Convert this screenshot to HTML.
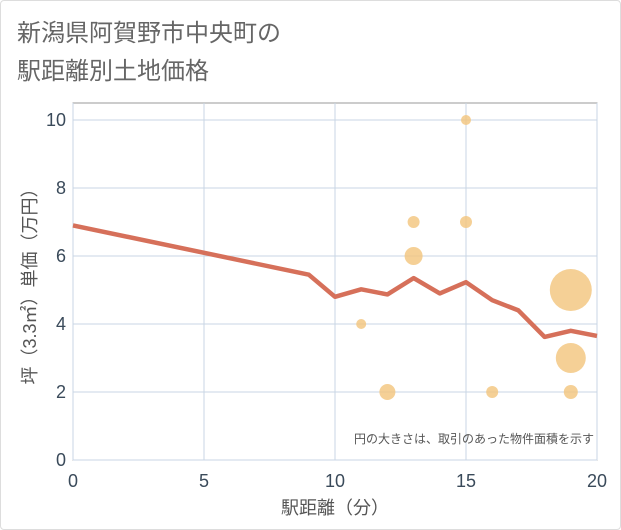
<!DOCTYPE html>
<html><head><meta charset="utf-8"><style>
body{margin:0;background:#fff;font-family:"Liberation Sans","Noto Sans CJK JP",sans-serif;}
#card{position:absolute;left:0;top:0;width:619px;height:528px;border:1px solid #ddd;border-radius:4px;background:#fff;}
</style></head><body>
<div id="card"></div>
<svg width="621" height="530" style="position:absolute;left:0;top:0" font-family="Liberation Sans, Noto Sans CJK JP, sans-serif">
<text x="17" y="41" font-size="24" fill="#666">新潟県阿賀野市中央町の</text>
<text x="17" y="79" font-size="24" fill="#666">駅距離別土地価格</text>
<rect x="73" y="103" width="524" height="357" fill="#fff" stroke="#999"/>
<g id="grid"></g><g id="bubbles"></g><g id="line"></g><g id="ticks"></g>
<text x="594" y="443" font-size="12" fill="#555" text-anchor="end">円の大きさは、取引のあった物件面積を示す</text>
<text x="335" y="514" font-size="18" fill="#555" text-anchor="middle">駅距離（分）</text>
<text transform="translate(36,282) rotate(-90)" font-size="18" fill="#555" text-anchor="middle">坪（3.3㎡）単価（万円）</text>
</svg>
<script>
const xTicks=[0,5,10,15,20];
const yTicks=[0,2,4,6,8,10];
const lineX=[0,9,10,11,12,13,14,15,16,17,18,19,20];
const lineY=[6.9,5.45,4.8,5.02,4.87,5.35,4.9,5.23,4.7,4.4,3.62,3.8,3.65];
const bubX=[11,12,13,13,15,15,16,19,19,19];
const bubY=[4,2,7,6,10,7,2,5,3,2];
const bubR=[5,8,6,9,5,6,6,21,15,7];
const NS="http://www.w3.org/2000/svg";
const sx=v=>73+v*26.2, sy=v=>460-v*34;
function mk(t,p,a){const e=document.createElementNS(NS,t);for(const k in a)e.setAttribute(k,a[k]);p.appendChild(e);return e;}
const g=document.getElementById('grid'),tk=document.getElementById('ticks');
xTicks.forEach(v=>{
 const l=mk('line',g,{x1:sx(v),x2:sx(v),y1:103,y2:460,stroke:'#c8d6e4'});
 
 
 const t=mk('text',tk,{x:sx(v),y:487,'font-size':18,fill:'#3a4a5a','text-anchor':'middle'});t.textContent=v;
 
 
});
yTicks.forEach(v=>{
 const l=mk('line',g,{x1:73,x2:597,y1:sy(v),y2:sy(v),stroke:'#c8d6e4'});
 
 
 const t=mk('text',tk,{x:66,y:sy(v)+6,'font-size':18,fill:'#3a4a5a','text-anchor':'end'});t.textContent=v;
 
 
});
const b=document.getElementById('bubbles');
bubX.forEach((x,i)=>{
 const c=mk('circle',b,{cx:sx(x),cy:sy(bubY[i]),r:bubR[i],fill:'#f3c47c','fill-opacity':0.8});
 
 
});
const p=mk('polyline',document.getElementById('line'),{points:lineX.map((x,i)=>sx(x)+','+sy(lineY[i])).join(' '),fill:'none',stroke:'#d6705a','stroke-width':4.5,'stroke-linejoin':'round'});


</script>
</body></html>
